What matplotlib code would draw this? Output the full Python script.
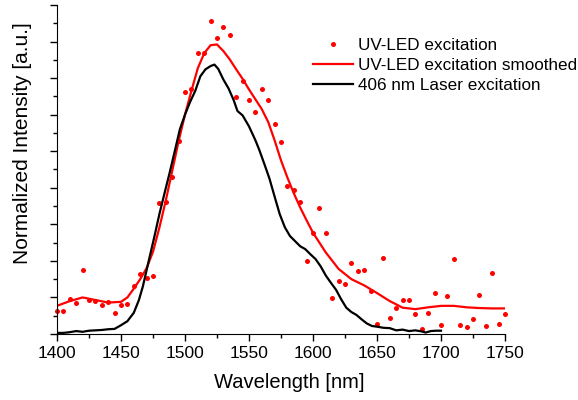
import matplotlib.pyplot as plt
from matplotlib.ticker import MultipleLocator

plt.rcParams['font.family'] = ['Liberation Sans', 'DejaVu Sans']

# UV-LED excitation, raw points (every 5 nm)
led_wl = list(range(1400, 1755, 5))
led_int = [0.063, 0.063, 0.096, 0.086, 0.175, 0.093, 0.091, 0.079, 0.087, 0.057,
           0.079, 0.081, 0.132, 0.164, 0.152, 0.158, 0.359, 0.362, 0.429, 0.529,
           0.662, 0.671, 0.768, 0.768, 0.856, 0.810, 0.840, 0.819, 0.648, 0.692,
           0.641, 0.607, 0.669, 0.640, 0.575, 0.525, 0.405, 0.395, 0.362, 0.199,
           0.276, 0.345, 0.275, 0.099, 0.145, 0.138, 0.195, 0.173, 0.175, 0.118,
           0.027, 0.208, 0.044, 0.072, 0.092, 0.092, 0.055, 0.015, 0.058, 0.112,
           0.024, 0.103, 0.205, 0.025, 0.019, 0.040, 0.106, 0.021, 0.168, 0.028,
           0.055]

# UV-LED excitation, smoothed
smooth_wl = [1400, 1410, 1420, 1430, 1440, 1450, 1455, 1460, 1465, 1470, 1475,
             1480, 1485, 1490, 1495, 1500, 1505, 1510, 1515, 1520, 1525, 1530,
             1535, 1540, 1545, 1550, 1560, 1565, 1570, 1575, 1580, 1585, 1590,
             1595, 1600, 1610, 1620, 1630, 1640, 1650, 1660, 1670, 1680, 1690,
             1700, 1710, 1720, 1730, 1740, 1750]
smooth_int = [0.077, 0.090, 0.100, 0.093, 0.086, 0.088, 0.100, 0.124, 0.150, 0.180,
              0.225, 0.291, 0.365, 0.446, 0.527, 0.600, 0.665, 0.727, 0.768, 0.790,
              0.792, 0.774, 0.751, 0.724, 0.698, 0.669, 0.615, 0.580, 0.530, 0.475,
              0.428, 0.385, 0.346, 0.311, 0.277, 0.223, 0.178, 0.150, 0.133, 0.112,
              0.090, 0.072, 0.068, 0.073, 0.077, 0.077, 0.073, 0.071, 0.070, 0.070]

# 406 nm laser excitation
laser_wl = [1400, 1405, 1410, 1415, 1420, 1425, 1430, 1435, 1440, 1445, 1450, 1455,
            1460, 1464, 1467, 1472, 1476, 1480, 1484, 1488, 1492, 1496, 1500, 1504,
            1508, 1512, 1516, 1520, 1523, 1526, 1530, 1534, 1538, 1541, 1545, 1550,
            1555, 1558, 1562, 1566, 1570, 1574, 1578, 1582, 1586, 1590, 1594, 1598,
            1602, 1606, 1610, 1614, 1618, 1622, 1626, 1630, 1634, 1638, 1642, 1646,
            1650, 1655, 1660, 1665, 1670, 1675, 1680, 1685, 1688, 1692, 1696, 1700]
laser_int = [0.003, 0.003, 0.005, 0.008, 0.006, 0.009, 0.010, 0.011, 0.013, 0.014,
             0.024, 0.035, 0.058, 0.093, 0.129, 0.205, 0.265, 0.328, 0.385, 0.441,
             0.500, 0.560, 0.600, 0.635, 0.665, 0.705, 0.724, 0.733, 0.737, 0.725,
             0.696, 0.672, 0.640, 0.610, 0.598, 0.568, 0.530, 0.504, 0.465, 0.425,
             0.376, 0.328, 0.292, 0.268, 0.254, 0.240, 0.232, 0.218, 0.205, 0.185,
             0.160, 0.140, 0.121, 0.095, 0.072, 0.060, 0.052, 0.040, 0.029, 0.022,
             0.020, 0.017, 0.016, 0.010, 0.012, 0.008, 0.010, 0.007, 0.004, 0.008,
             0.009, 0.009]

fig = plt.figure(figsize=(5.78, 4.0), dpi=100)
ax = fig.add_axes([0.0986, 0.165, 0.7751, 0.8225])

ax.plot(led_wl, led_int, 'o', color='#ff0000', markersize=3.6, markeredgewidth=0,
        label='UV-LED excitation', clip_on=False)
ax.plot(smooth_wl, smooth_int, '-', color='#ff0000', linewidth=1.6,
        label='UV-LED excitation smoothed')
ax.plot(laser_wl, laser_int, '-', color='black', linewidth=1.6,
        label='406 nm Laser excitation')

ax.set_xlim(1400, 1750)
ax.set_ylim(0, 0.9)
ax.xaxis.set_major_locator(MultipleLocator(50))
ax.xaxis.set_minor_locator(MultipleLocator(25))
ax.yaxis.set_major_locator(MultipleLocator(0.1))
ax.yaxis.set_minor_locator(MultipleLocator(0.05))
ax.set_yticklabels([])
ax.tick_params(which='major', length=5, width=1, labelsize=12.5)
ax.tick_params(which='minor', length=3, width=1)
ax.spines['top'].set_visible(False)
ax.spines['right'].set_visible(False)

ax.set_xlabel('Wavelength [nm]', fontsize=14.5)
ax.xaxis.set_label_coords(0.518, -0.118)
ax.set_ylabel('Normalized Intensity [a.u.]', fontsize=15)
ax.yaxis.set_label_coords(-0.055, 0.58)

ax.legend(loc='upper left', bbox_to_anchor=(0.571, 0.9), frameon=False,
          fontsize=12.3, numpoints=1, handlelength=2.35, handletextpad=0.3,
          labelspacing=0.3, borderpad=0, borderaxespad=0)

plt.savefig('out.png', dpi=100)
